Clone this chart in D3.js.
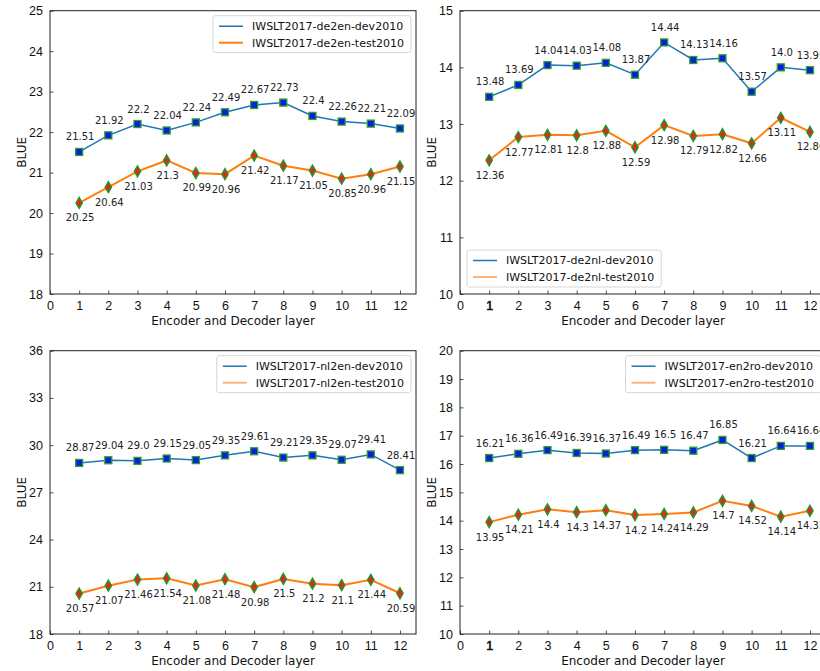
<!DOCTYPE html>
<html>
<head>
<meta charset="utf-8">
<script src="https://cdn.jsdelivr.net/npm/d3@7"></script>
<style>
  html, body { margin: 0; padding: 0; background: #fff; }
  svg { display: block; font-family: "DejaVu Sans", sans-serif; }
</style>
</head>
<body>
<svg id="chart" width="820" height="671"></svg>
<script>
// Layer indices shared by every panel
const layers = [1, 2, 3, 4, 5, 6, 7, 8, 9, 10, 11, 12];
const xTicks = [0, 1, 2, 3, 4, 5, 6, 7, 8, 9, 10, 11, 12];

// BLEU scores per layer
const de2enDev  = [21.51, 21.92, 22.2, 22.04, 22.24, 22.49, 22.67, 22.73, 22.4, 22.26, 22.21, 22.09];
const de2enTest = [20.25, 20.64, 21.03, 21.3, 20.99, 20.96, 21.42, 21.17, 21.05, 20.85, 20.96, 21.15];

const de2nlDev  = [13.48, 13.69, 14.04, 14.03, 14.08, 13.87, 14.44, 14.13, 14.16, 13.57, 14.0, 13.95];
const de2nlTest = [12.36, 12.77, 12.81, 12.8, 12.88, 12.59, 12.98, 12.79, 12.82, 12.66, 13.11, 12.86];

const nl2enDev  = [28.87, 29.04, 29.0, 29.15, 29.05, 29.35, 29.61, 29.21, 29.35, 29.07, 29.41, 28.41];
const nl2enTest = [20.57, 21.07, 21.46, 21.54, 21.08, 21.48, 20.98, 21.5, 21.2, 21.1, 21.44, 20.59];

const en2roDev  = [16.21, 16.36, 16.49, 16.39, 16.37, 16.49, 16.5, 16.47, 16.85, 16.21, 16.64, 16.64];
const en2roTest = [13.95, 14.21, 14.4, 14.3, 14.37, 14.2, 14.24, 14.29, 14.7, 14.52, 14.14, 14.35];

// Y tick labels per panel
const de2enTicks = [18, 19, 20, 21, 22, 23, 24, 25];
const de2nlTicks = [10, 11, 12, 13, 14, 15];
const nl2enTicks = [18, 21, 24, 27, 30, 33, 36];
const en2roTicks = [10, 11, 12, 13, 14, 15, 16, 17, 18, 19, 20];

// Legend labels
const de2enNames = ["IWSLT2017-de2en-dev2010", "IWSLT2017-de2en-test2010"];
const de2nlNames = ["IWSLT2017-de2nl-dev2010", "IWSLT2017-de2nl-test2010"];
const nl2enNames = ["IWSLT2017-nl2en-dev2010", "IWSLT2017-nl2en-test2010"];
const en2roNames = ["IWSLT2017-en2ro-dev2010", "IWSLT2017-en2ro-test2010"];

const panels = [
  { dev: de2enDev, test: de2enTest, ticks: de2enTicks, names: de2enNames,
    left: 50, top: 10.7, bottom: 294, legend: "upper right", lightLegend: false, boldOne: false },
  { dev: de2nlDev, test: de2nlTest, ticks: de2nlTicks, names: de2nlNames,
    left: 460, top: 10.7, bottom: 294, legend: "lower left", lightLegend: true, boldOne: true },
  { dev: nl2enDev, test: nl2enTest, ticks: nl2enTicks, names: nl2enNames,
    left: 50, top: 350.7, bottom: 634, legend: "upper right", lightLegend: true, boldOne: false },
  { dev: en2roDev, test: en2roTest, ticks: en2roTicks, names: en2roNames,
    left: 460, top: 350.7, bottom: 634, legend: "upper right", lightLegend: true, boldOne: true }
];

const svg = d3.select("#chart");
const axesWidth = 366;
const xMax = 12.55;
const blue = "#1f77b4", orange = "#ff7f0e", lightOrange = "#ffb27a";

// Scores print like floats: whole numbers keep one decimal ("29.0")
const fmtScore = d => Number.isInteger(d) ? d.toFixed(1) : String(d);

panels.forEach(p => {
  const x = d3.scaleLinear().domain([0, xMax]).range([p.left, p.left + axesWidth]);
  const y = d3.scaleLinear().domain([p.ticks[0], p.ticks[p.ticks.length - 1]]).range([p.bottom, p.top]);
  const g = svg.append("g");

  // Axes with inward ticks
  const xAxis = d3.axisBottom(x).tickValues(xTicks).tickFormat(d3.format("d")).tickSizeInner(-3.5).tickSizeOuter(0).tickPadding(7);
  const yAxis = d3.axisLeft(y).tickValues(p.ticks).tickFormat(d3.format("d")).tickSizeInner(-3.5).tickSizeOuter(0).tickPadding(7);

  const gx = g.append("g").attr("transform", `translate(0,${p.bottom})`).call(xAxis);
  const gy = g.append("g").attr("transform", `translate(${p.left},0)`).call(yAxis);
  [gx, gy].forEach(a => {
    a.select(".domain").remove();
    a.selectAll(".tick line").attr("stroke", "#222").attr("stroke-width", 0.8);
    a.selectAll(".tick text").attr("fill", "#111").style("font-size", "12.5px");
  });
  gx.selectAll(".tick text").attr("dy", "0.75em");
  if (p.boldOne) {
    gx.selectAll(".tick text").filter(d => d === 1).attr("stroke", "#111").attr("stroke-width", 0.6);
  }

  // Frame
  g.append("rect")
    .attr("x", p.left).attr("y", p.top)
    .attr("width", axesWidth).attr("height", p.bottom - p.top)
    .attr("fill", "none").attr("stroke", "#222").attr("stroke-width", 1);

  // Axis titles
  g.append("text")
    .attr("x", p.left + axesWidth / 2).attr("y", p.bottom + 31)
    .attr("text-anchor", "middle").style("font-size", "12px").attr("fill", "#111")
    .text("Encoder and Decoder layer");
  g.append("text")
    .attr("transform", `translate(${p.left - 28},${(p.top + p.bottom) / 2}) rotate(-90)`)
    .attr("text-anchor", "middle").attr("dy", "0.35em")
    .style("font-size", "12px").attr("fill", "#111")
    .text("BLUE");

  const line = d3.line().x((d, i) => x(layers[i])).y(d => y(d));

  // Dev series: line and square markers
  g.append("path").datum(p.dev).attr("d", line)
    .attr("fill", "none").attr("stroke", blue).attr("stroke-width", 1.5);
  g.selectAll(".sq").data(p.dev).join("rect")
    .attr("x", (d, i) => x(layers[i]) - 3.5).attr("y", d => y(d) - 3.5)
    .attr("width", 7).attr("height", 7)
    .attr("fill", "#0a1ee0").attr("stroke", "#2ca02c").attr("stroke-width", 1.3);

  // Test series: line and thin diamond markers
  g.append("path").datum(p.test).attr("d", line)
    .attr("fill", "none").attr("stroke", orange).attr("stroke-width", 2);
  g.selectAll(".dm").data(p.test).join("path")
    .attr("d", (d, i) => {
      const cx = x(layers[i]), cy = y(d);
      return `M${cx},${cy - 5.5}L${cx + 3.2},${cy}L${cx},${cy + 5.5}L${cx - 3.2},${cy}Z`;
    })
    .attr("fill", "#e8241c").attr("stroke", "#1f9a2a").attr("stroke-width", 1.4);

  // Value labels
  g.selectAll(".lblDev").data(p.dev).join("text")
    .attr("x", (d, i) => x(layers[i]) + 1).attr("y", d => y(d) - 15)
    .attr("text-anchor", "middle").attr("dy", "0.35em")
    .style("font-size", "10px").attr("fill", "#222")
    .text(fmtScore);
  g.selectAll(".lblTest").data(p.test).join("text")
    .attr("x", (d, i) => x(layers[i]) + 1).attr("y", d => y(d) + 15)
    .attr("text-anchor", "middle").attr("dy", "0.35em")
    .style("font-size", "10px").attr("fill", "#222")
    .text(fmtScore);

  // Legend
  const lg = g.append("g");
  const texts = p.names.map((name, i) =>
    lg.append("text").style("font-size", "11px").attr("fill", "#111").attr("dy", "0.35em").text(name));
  const textW = d3.max(texts, t => t.node().getComputedTextLength());
  const boxW = 39 + textW + 7, boxH = 37;
  let bx, by;
  if (p.legend === "upper right") {
    bx = p.left + axesWidth - 5 - boxW; by = p.top + 5;
  } else {
    bx = p.left + 7; by = p.bottom - 7 - boxH;
  }
  lg.insert("rect", "text")
    .attr("x", bx).attr("y", by).attr("width", boxW).attr("height", boxH)
    .attr("rx", 2.5).attr("fill", "#fff").attr("fill-opacity", 0.85)
    .attr("stroke", "#d6d6d6").attr("stroke-width", 1);
  const rowY = [by + 10.5, by + 27];
  const cols = [blue, p.lightLegend ? lightOrange : orange];
  const widths = [1.5, 2];
  rowY.forEach((ry, i) => {
    lg.append("line").attr("x1", bx + 6).attr("x2", bx + 30).attr("y1", ry).attr("y2", ry)
      .attr("stroke", cols[i]).attr("stroke-width", widths[i]);
    texts[i].attr("x", bx + 39).attr("y", ry);
  });
});
</script>
</body>
</html>
